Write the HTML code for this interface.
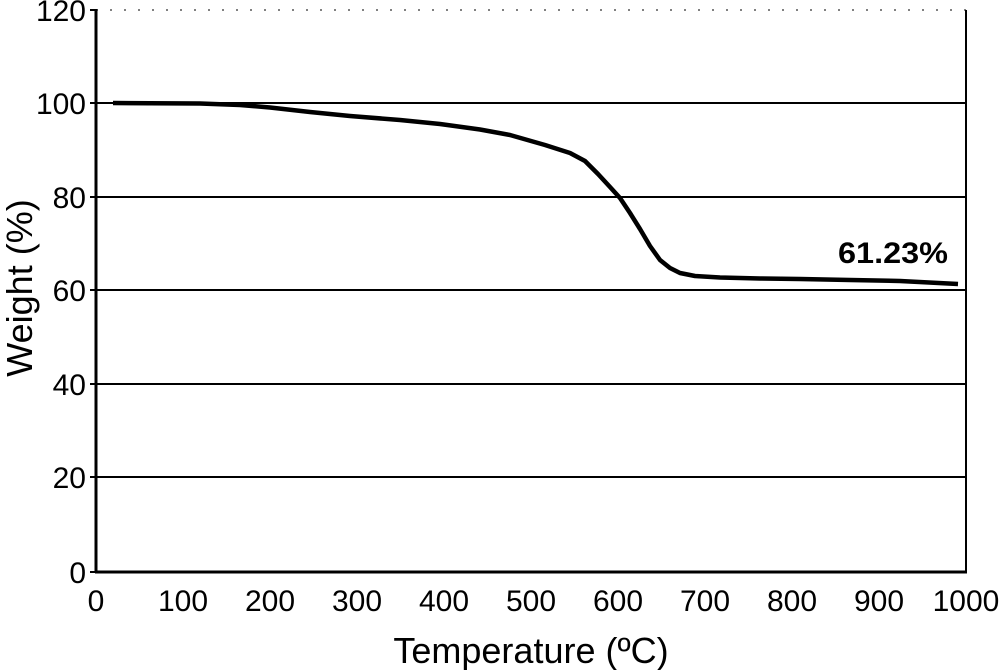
<!DOCTYPE html>
<html><head><style>body{margin:0;background:#fff}svg{display:block}</style></head><body>
<svg width="1000" height="670" xmlns="http://www.w3.org/2000/svg" font-family="Liberation Sans, Arial, sans-serif">
<g stroke="#000" stroke-width="2">
<line x1="96" y1="10" x2="966" y2="10" stroke-dasharray="2,12" stroke-width="1"/>
<line x1="96" y1="103" x2="966" y2="103"/>
<line x1="96" y1="197" x2="966" y2="197"/>
<line x1="96" y1="290" x2="966" y2="290"/>
<line x1="96" y1="384" x2="966" y2="384"/>
<line x1="96" y1="477" x2="966" y2="477"/>
<line x1="966" y1="10" x2="966" y2="572"/>
</g>
<g stroke="#000" stroke-width="3">
<line x1="96" y1="9" x2="96" y2="573"/>
<line x1="95" y1="572" x2="967" y2="572"/>
</g>
<g stroke="#000" stroke-width="2">
<line x1="90" y1="10" x2="96" y2="10"/><line x1="90" y1="103" x2="96" y2="103"/><line x1="90" y1="197" x2="96" y2="197"/><line x1="90" y1="290" x2="96" y2="290"/><line x1="90" y1="384" x2="96" y2="384"/><line x1="90" y1="477" x2="96" y2="477"/><line x1="90" y1="572" x2="96" y2="572"/>
</g>
<polyline fill="none" stroke="#000" stroke-width="4.5" stroke-linejoin="round" points="113,103 150,103.2 200,103.5 240,105 270,107.5 310,112 350,116 400,120 440,124 480,129.5 510,135 545,145 570,153 585,161 598,174 610,187 620,198 630,213 640,229 650,246 660,260 670,268 680,273 695,276 720,277.5 760,278.5 800,279 850,280 900,281 958,284"/>
<text x="838" y="263" font-size="30" font-weight="bold" textLength="110" lengthAdjust="spacingAndGlyphs">61.23%</text>
<g font-size="30" text-anchor="end">
<text x="86" y="21">120</text><text x="86" y="114">100</text><text x="86" y="208">80</text><text x="86" y="301">60</text><text x="86" y="395">40</text><text x="86" y="488">20</text><text x="86" y="583">0</text>
</g>
<g font-size="30" text-anchor="middle">
<text x="96" y="611">0</text><text x="183" y="611">100</text><text x="270" y="611">200</text><text x="357" y="611">300</text><text x="444" y="611">400</text><text x="531" y="611">500</text><text x="618" y="611">600</text><text x="705" y="611">700</text><text x="792" y="611">800</text><text x="879" y="611">900</text><text x="966" y="611">1000</text>
</g>
<text x="531" y="663" font-size="36" text-anchor="middle">Temperature (ºC)</text>
<text transform="translate(32,288) rotate(-90)" font-size="36" text-anchor="middle">Weight (%)</text>
</svg>
</body></html>
